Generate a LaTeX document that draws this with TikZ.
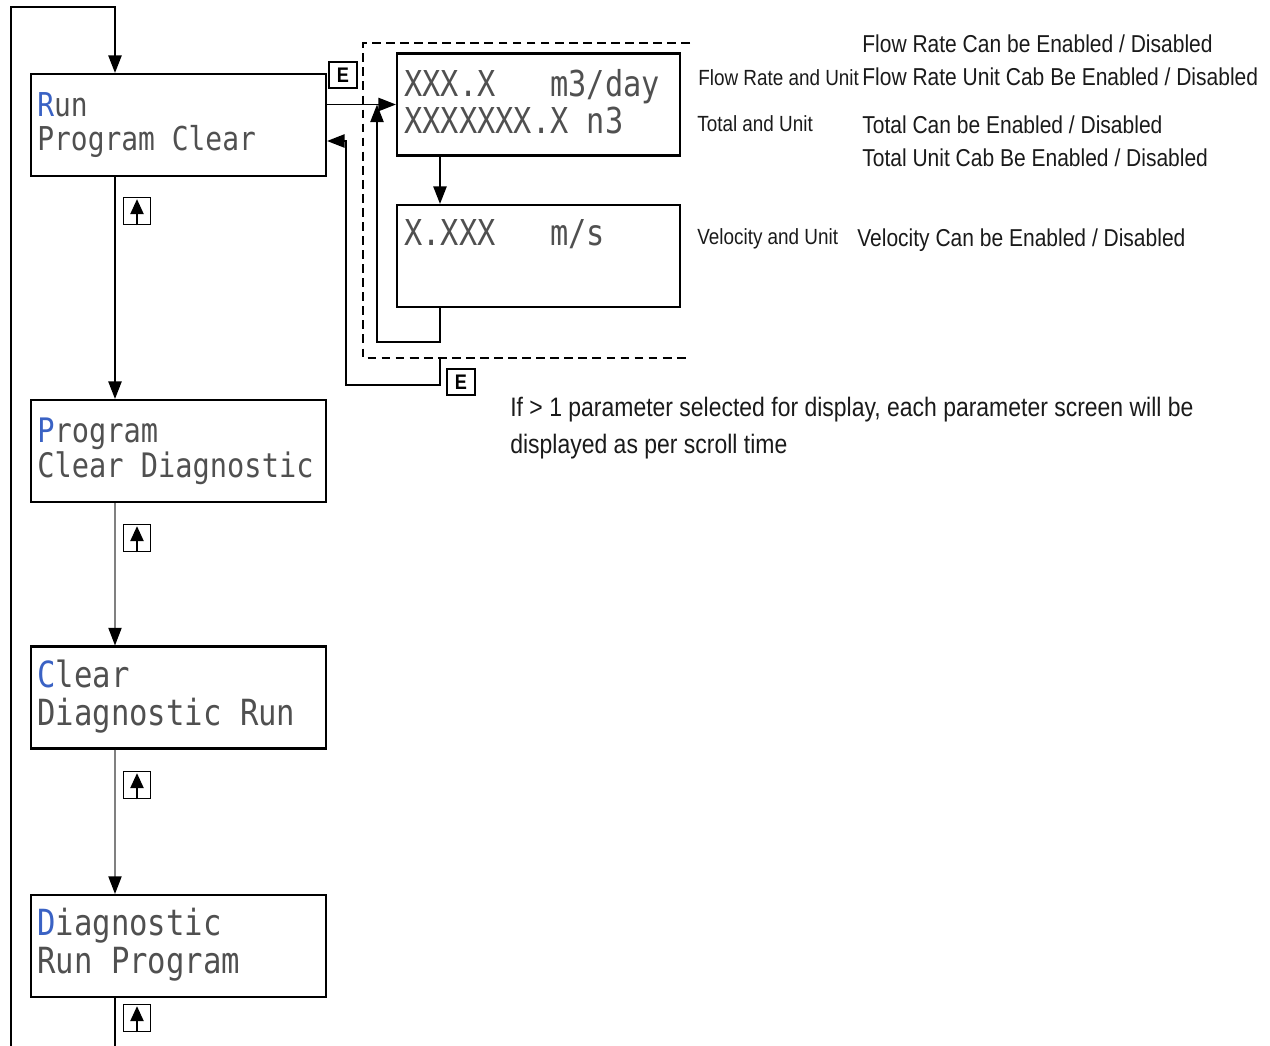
\documentclass[tikz,border=0pt]{standalone}
\usepackage{fontspec}
\usetikzlibrary{arrows.meta, positioning}
\newfontfamily\lcdfont[FakeStretch=0.85]{DejaVu Sans Mono}
\newfontfamily\lblfont[FakeStretch=0.86]{Liberation Sans}
\definecolor{lcdgrey}{HTML}{505050}
\definecolor{lcdblue}{HTML}{3A62C4}
\definecolor{inkdark}{HTML}{1A1A1A}
\tikzset{
  lcd/.style={draw, line width=1.2pt, minimum width=5.9cm, minimum height=2.04cm, inner sep=0pt},
  lcdtxt/.style args={#1/#2}{font=\lcdfont\fontsize{#1}{#2}\selectfont, text=lcdgrey,
               anchor=base west, align=left, inner sep=0pt},
  upkey/.style={draw, line width=1.1pt, minimum width=0.54cm, minimum height=0.54cm, inner sep=0pt},
  keyarrow/.style={-{Triangle[length=8.5pt,width=7.5pt]}, line width=1pt},
  ekey/.style={draw, line width=1.1pt, minimum width=0.56cm, minimum height=0.52cm, inner sep=0pt,
               font=\lblfont\bfseries\fontsize{12}{12}\selectfont},
  flow/.style={-{Triangle[length=10pt,width=7.5pt]}, line width=1.1pt},
  thinflow/.style={-{Triangle[length=10pt,width=7.5pt,color=black]}, draw=black!50, line width=0.7pt},
  grp/.style={dash pattern=on 5pt off 3pt, line width=1pt},
  lbl/.style={font=\lblfont\fontsize{12.5}{14}\selectfont, text=inkdark, anchor=base west, inner sep=0pt},
  desc/.style={font=\lblfont\fontsize{13.9}{18.5}\selectfont, text=inkdark, anchor=base west, align=left, inner sep=0pt},
}
\begin{document}
\begin{tikzpicture}[x=0.02cm, y=-0.02cm]
  \useasboundingbox (0,0) rectangle (1270,1045);
  % menu screens
  \node[lcd] (b1) at (178.5,125) {};
  \node[lcd] (b2) at (178.5,451) {};
  \node[lcd] (b3) at (178.5,697.5) {};
  \node[lcd] (b4) at (178.5,946) {};
  \node[lcd, minimum width=5.66cm] (b5) at (538.5,104.5) {};
  \node[lcd, minimum width=5.66cm] (b6) at (538.5,256) {};
  \node[lcdtxt=18.7/18.8] (t1) at (37,150) {\textcolor{lcdblue}{R}un\\Program Clear};
  \node[lcdtxt=19.2/19.9] (t2) at (37,477) {\textcolor{lcdblue}{P}rogram\\Clear Diagnostic};
  \node[lcdtxt=20.5/21.2] (t3) at (37,725) {\textcolor{lcdblue}{C}lear\\Diagnostic Run};
  \node[lcdtxt=20.5/21.6] (t4) at (37,973) {\textcolor{lcdblue}{D}iagnostic\\Run Program};
  \node[lcdtxt=20.3/20.5] (t5) at (404,133) {XXX.X~~~m3/day\\XXXXXXX.X~n3};
  \node[lcdtxt=20.3/20.5] (t6) at (404,245) {X.XXX~~~m/s};
  % keys
  \foreach \n/\y in {1/211,2/538,3/785,4/1018} {
    \node[upkey] (k\n) at (137,\y) {};
    \draw[keyarrow] (k\n.south) -- ([yshift=-1.5pt]k\n.north);
  }
  \node[ekey] (e1) at (343,75) {E};
  \node[ekey] (e2) at (461,382) {E};
  % connectors
  \coordinate (top) at (115,7);
  \coordinate (loopL) at (11,1046);
  \coordinate (tap) at (440,0);
  \coordinate (ret1) at (377,342);
  \coordinate (ret2) at (346,385);
  \coordinate (fb) at (440,358);
  \coordinate (rin) at (0,141);
  \draw[flow] (loopL) |- (top) -- (top |- b1.north);
  \draw[flow] (top |- b1.south) -- (top |- b2.north);
  \draw[thinflow] (top |- b2.south) -- (top |- b3.north);
  \draw[thinflow] (top |- b3.south) -- (top |- b4.north);
  \draw[line width=1.1pt] (top |- b4.south) -- (top |- loopL);
  \draw[flow] (b1.east |- b5.west) -- (b5.west);
  \draw[flow] (tap |- b5.south) -- (tap |- b6.north);
  \draw[flow] (tap |- b6.south) |- (ret1) -- (ret1 |- b5.west);
  \draw[flow] (fb) |- (ret2) |- (b1.east |- rin);
  \draw[grp] (690,43) -| (363,358) -- (690,358);
  % notes
  \node[desc] (frd) at (862,85) {Flow Rate Can be Enabled / Disabled\\Flow Rate Unit Cab Be Enabled / Disabled};
  \node[lbl] (frl) at (698,85) {Flow Rate and Unit};
  \node[lbl] (totl) at (697,131) {Total and Unit};
  \node[desc] (totd) at (862,166) {Total Can be Enabled / Disabled\\Total Unit Cab Be Enabled / Disabled};
  \node[lbl] (vell) at (697,244) {Velocity and Unit};
  \node[desc] (veld) at (857,246) {Velocity Can be Enabled / Disabled};
  \node[desc, font=\lblfont\fontsize{15.2}{20.5}\selectfont] (note) at (510,453)
    {If > 1 parameter selected for display, each parameter screen will be\\displayed as per scroll time};
\end{tikzpicture}
\end{document}
